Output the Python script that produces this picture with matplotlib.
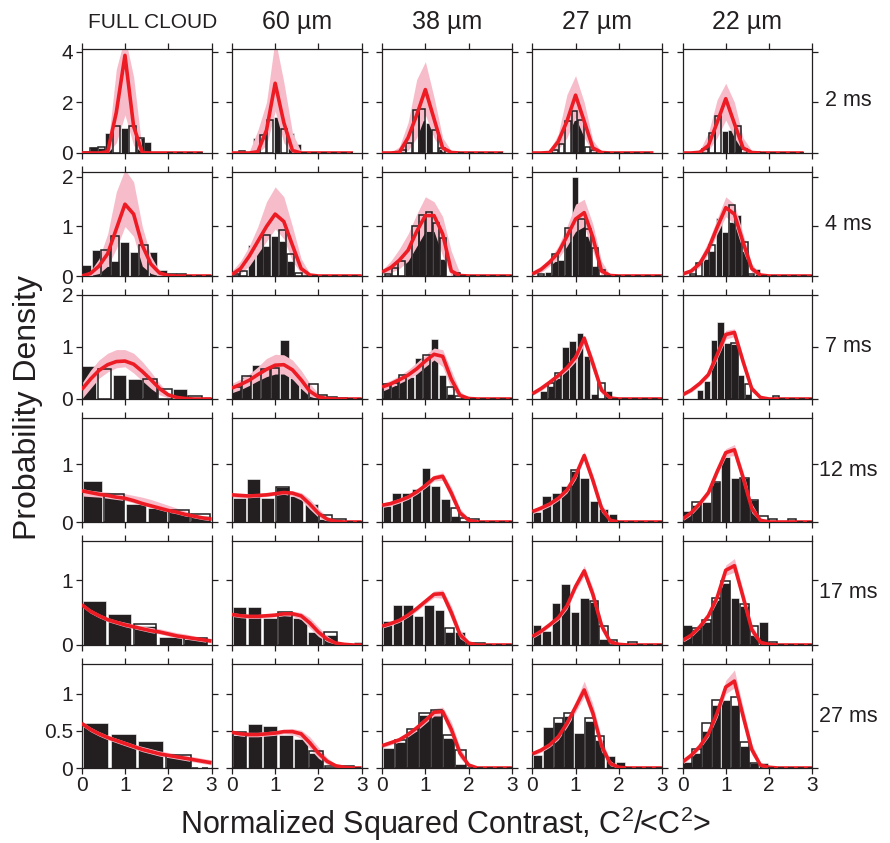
import numpy as np
import matplotlib.pyplot as plt

plt.rcParams['font.family'] = ['Liberation Sans', 'DejaVu Sans']

# labels
col_names = ["FULL CLOUD", "60 µm", "38 µm", "27 µm", "22 µm"]
row_names = ["2 ms", "4 ms", "7 ms", "12 ms", "17 ms", "27 ms"]
ymax = [4.1, 2.1, 2.0, 1.8, 1.6, 1.4]
yticks = [[0, 2, 4], [0, 1, 2], [0, 1, 2], [0, 1], [0, 1], [0, 0.5, 1]]
ytick_labels = [["0", "2", "4"], ["0", "1", "2"], ["0", "1", "2"], ["0", "1"], ["0", "1"], ["0", "0.5", "1"]]

# x grid of the model curves
xg = [0, 0.2, 0.4, 0.6, 0.8, 1.0, 1.2, 1.4, 1.6, 1.8, 2.0, 2.2, 2.4, 2.6, 2.8, 3.0]
nan = np.nan

# ---- 2 ms ----
line_2ms = [[0, 0, 0, 0.05, 1.6, 3.85, 1.05, 0.02, 0, 0, 0, 0, 0, 0, 0, nan],
            [0, 0, 0, 0.05, 0.9, 2.75, 1.2, 0.1, 0, 0, 0, 0, 0, 0, 0, nan],
            [0, 0, 0.03, 0.6, 1.5, 2.5, 1.35, 0.2, 0.02, 0, 0, 0, 0, 0, 0, nan],
            [0, 0, 0.02, 0.45, 1.25, 2.28, 1.25, 0.2, 0.02, 0, 0, 0, 0, 0, 0, nan],
            [0, 0, 0.03, 0.3, 1.2, 2.14, 1.16, 0.2, 0.02, 0, 0, 0, 0, 0, 0, nan]]
hi_2ms = [[0, 0, 0.02, 0.15, 3.3, 4.6, 3.0, 0.08, 0, 0, 0, 0, 0, 0, 0, nan],
          [0, 0, 0.05, 0.9, 2.0, 4.5, 2.8, 0.8, 0.05, 0, 0, 0, 0, 0, 0, nan],
          [0, 0.02, 0.25, 1.2, 2.9, 3.6, 2.2, 0.6, 0.08, 0.01, 0, 0, 0, 0, 0, nan],
          [0, 0, 0.1, 0.75, 2.3, 3.05, 2.0, 0.5, 0.05, 0, 0, 0, 0, 0, 0, nan],
          [0, 0, 0.1, 0.8, 2.1, 2.75, 2.0, 0.6, 0.1, 0.01, 0, 0, 0, 0, 0, nan]]
lo_2ms = [[0, 0, 0, 0, 0.4, 1.5, 0.3, 0, 0, 0, 0, 0, 0, 0, 0, nan],
          [0, 0, 0, 0, 0.3, 1.65, 0.4, 0, 0, 0, 0, 0, 0, 0, 0, nan],
          [0, 0, 0, 0.1, 0.6, 1.5, 0.6, 0.03, 0, 0, 0, 0, 0, 0, 0, nan],
          [0, 0, 0, 0.15, 0.6, 1.4, 0.6, 0.03, 0, 0, 0, 0, 0, 0, 0, nan],
          [0, 0, 0, 0.1, 0.6, 1.3, 0.6, 0.05, 0, 0, 0, 0, 0, 0, 0, nan]]
x0_2ms = [0, 0, 0.4, 0.45, 0.45]
w_2ms = [0.18, 0.16, 0.15, 0.15, 0.15]
blk_2ms = [[0.05, 0.22, 0.2, 0.8, 0, 1.0, 0, 0.6, 0.45, 0.05, 0.03],
           [0, 0, 0.05, 0.6, 0, 0, 1.4, 0, 0.8, 0.35],
           [0, 0, 0, 1.3, 1.2, 0, 0.15, 0.05, 0.03],
           [0, 0, 0, 1.3, 1.45, 0, 0, 0.05],
           [0, 0, 0, 0.85, 0.9, 0.7, 0, 0, 0.04]]
out_2ms = [[0.05, 0.2, 0.22, 0, 1.07, 0, 1.07, 0.6, 0, 0, 0],
           [0, 0.08, 0, 0, 0.7, 1.3, 0, 0.95, 0, 0],
           [0.1, 0.4, 1.7, 1.75, 0, 0.9, 0.2, 0, 0],
           [0.1, 0.35, 1.25, 1.65, 1.3, 0.25, 0.1, 0],
           [0.15, 0.8, 1.45, 0, 0, 1.05, 0.15, 0, 0.04]]

# ---- 4 ms ----
line_4ms = [[0, 0.05, 0.2, 0.45, 0.95, 1.45, 1.25, 0.62, 0.24, 0.06, 0.01, 0, 0, 0, 0, 0],
            [0.03, 0.15, 0.4, 0.7, 1.0, 1.25, 1.1, 0.62, 0.15, 0.02, 0, 0, 0, 0, 0, 0],
            [0.08, 0.17, 0.32, 0.52, 0.9, 1.22, 1.22, 0.85, 0.1, 0.01, 0, 0, 0, 0, 0, 0],
            [0.04, 0.13, 0.28, 0.47, 0.8, 1.15, 1.28, 0.78, 0.1, 0.01, 0, 0, 0, 0, 0, 0],
            [0.04, 0.1, 0.25, 0.55, 0.98, 1.38, 1.25, 0.68, 0.15, 0.02, 0, 0, 0, 0, 0, 0]]
hi_4ms = [[0.02, 0.1, 0.35, 0.85, 1.7, 2.15, 1.9, 1.0, 0.4, 0.1, 0.02, 0, 0, 0, 0, 0],
          [0.1, 0.3, 0.6, 1.0, 1.5, 1.8, 1.6, 1.0, 0.35, 0.05, 0, 0, 0, 0, 0, 0],
          [0.12, 0.3, 0.55, 0.85, 1.25, 1.6, 1.5, 1.2, 0.5, 0.05, 0, 0, 0, 0, 0, 0],
          [0.1, 0.2, 0.35, 0.6, 1.0, 1.45, 1.55, 1.05, 0.3, 0.02, 0, 0, 0, 0, 0, 0],
          [0.07, 0.15, 0.35, 0.7, 1.15, 1.6, 1.45, 0.85, 0.25, 0.03, 0, 0, 0, 0, 0, 0]]
lo_4ms = [[0, 0.01, 0.05, 0.2, 0.55, 1.0, 0.8, 0.2, 0.05, 0, 0, 0, 0, 0, 0, 0],
          [0, 0.05, 0.2, 0.45, 0.7, 0.95, 0.75, 0.3, 0.05, 0, 0, 0, 0, 0, 0, 0],
          [0.03, 0.07, 0.15, 0.3, 0.6, 0.9, 0.9, 0.4, 0, 0, 0, 0, 0, 0, 0, 0],
          [0.01, 0.07, 0.2, 0.35, 0.6, 0.9, 1.0, 0.5, 0, 0, 0, 0, 0, 0, 0, 0],
          [0.02, 0.06, 0.18, 0.45, 0.85, 1.2, 1.05, 0.5, 0.07, 0, 0, 0, 0, 0, 0, 0]]
x0_4ms = [0, 0, 0.05, 0.13, 0.16]
w_4ms = [0.22, 0.18, 0.16, 0.155, 0.15]
blk_4ms = [[0.22, 0.52, 0.2, 0.3, 0.69, 0.48, 0.4, 0.48, 0.13, 0.05, 0.05],
           [0, 0, 0.62, 0.64, 0.6, 0.8, 0.7, 0.3, 0],
           [0, 0, 0, 0.52, 0.8, 0.95, 1.0, 0.95, 0.35, 0, 0],
           [0, 0.08, 0.3, 0.33, 0.7, 2.0, 1.15, 0.8, 0.2, 0],
           [0, 0, 0.35, 0.5, 1.17, 0.89, 1.1, 1.23, 0.5, 0, 0.14]]
out_4ms = [[0, 0, 0.52, 0.8, 0, 0, 0.62, 0, 0, 0.05, 0.05],
           [0.05, 0.1, 0, 0, 0.83, 0, 0.93, 0.44, 0.07],
           [0.05, 0.17, 0.3, 0, 1.0, 1.24, 1.3, 1.07, 0.77, 0, 0.07],
           [0.05, 0, 0.45, 0, 0.97, 0, 1.15, 0.95, 0.57, 0.13],
           [0.05, 0.27, 0, 0.62, 0, 0, 1.43, 0, 0.68, 0.05, 0]]

# ---- 7 ms ----
line_7ms = [[0.18, 0.38, 0.55, 0.66, 0.72, 0.73, 0.67, 0.53, 0.37, 0.2, 0.08, 0.03, 0.01, 0, 0, 0],
            [0.21, 0.28, 0.36, 0.47, 0.57, 0.65, 0.66, 0.56, 0.37, 0.15, 0.04, 0.01, 0, 0, 0, 0],
            [0.23, 0.29, 0.37, 0.46, 0.58, 0.73, 0.86, 0.82, 0.38, 0.07, 0.01, 0, 0, 0, 0, 0],
            [0.1, 0.2, 0.32, 0.45, 0.6, 0.8, 1.17, 0.68, 0.17, 0.02, 0, 0, 0, 0, 0, 0],
            [0.08, 0.17, 0.3, 0.47, 0.85, 1.24, 1.28, 0.72, 0.2, 0.03, 0, 0, 0, 0, 0, 0]]
hi_7ms = [[0.3, 0.55, 0.75, 0.88, 0.95, 0.95, 0.88, 0.72, 0.52, 0.3, 0.12, 0.05, 0.02, 0, 0, 0],
          [0.3, 0.38, 0.48, 0.62, 0.78, 0.86, 0.85, 0.75, 0.55, 0.3, 0.1, 0.02, 0, 0, 0, 0],
          [0.3, 0.36, 0.45, 0.56, 0.7, 0.85, 0.98, 0.95, 0.55, 0.15, 0.02, 0, 0, 0, 0, 0],
          [0.13, 0.23, 0.35, 0.5, 0.65, 0.87, 1.22, 0.8, 0.25, 0.04, 0, 0, 0, 0, 0, 0],
          [0.12, 0.2, 0.33, 0.52, 0.93, 1.32, 1.35, 0.82, 0.27, 0.05, 0, 0, 0, 0, 0, 0]]
lo_7ms = [[0, 0.2, 0.4, 0.52, 0.6, 0.62, 0.5, 0.35, 0.2, 0.08, 0.02, 0, 0, 0, 0, 0],
          [0.12, 0.18, 0.26, 0.35, 0.43, 0.48, 0.48, 0.38, 0.2, 0.05, 0, 0, 0, 0, 0, 0],
          [0.15, 0.22, 0.3, 0.38, 0.48, 0.62, 0.75, 0.62, 0.2, 0.02, 0, 0, 0, 0, 0, 0],
          [0.07, 0.16, 0.27, 0.4, 0.54, 0.72, 1.05, 0.55, 0.1, 0, 0, 0, 0, 0, 0, 0],
          [0.05, 0.13, 0.26, 0.42, 0.77, 1.15, 1.2, 0.62, 0.14, 0.02, 0, 0, 0, 0, 0, 0]]
x0_7ms = [0, 0, 0, 0.18, 0.32]
w_7ms = [0.35, 0.222, 0.185, 0.167, 0.16]
blk_7ms = [[0.63, 0, 0.47, 0.39, 0.36, 0, 0.19, 0, 0.04],
           [0.2, 0.42, 0.65, 0.55, 0.58, 1.13, 0.41, 0.21, 0.1, 0, 0, 0],
           [0.25, 0.27, 0.4, 0.42, 0.79, 0.8, 1.16, 0.46, 0.1, 0, 0],
           [0.15, 0.25, 0.4, 1.0, 1.11, 1.27, 0.82, 0.1, 0, 0.15],
           [0.18, 0.34, 1.14, 1.49, 1.08, 1.05, 0.46, 0.1, 0, 0, 0, 0]]
out_7ms = [[0, 0.58, 0, 0, 0.39, 0.19, 0, 0.05, 0],
           [0.23, 0.44, 0, 0.58, 0.6, 0, 0, 0, 0.29, 0.08, 0.03, 0.02],
           [0.28, 0.3, 0.46, 0, 0, 0.84, 0, 0, 0.23, 0.05, 0.02],
           [0, 0.31, 0.5, 0, 0, 0, 0, 0, 0.31, 0],
           [0, 0, 0, 0, 0, 1.08, 0, 0.28, 0, 0, 0, 0.06]]

# ---- 12 ms ----
line_12ms = [[0.54, 0.51, 0.48, 0.46, 0.43, 0.41, 0.37, 0.32, 0.28, 0.24, 0.2, 0.17, 0.13, 0.1, 0.07, 0.05],
             [0.47, 0.46, 0.45, 0.46, 0.47, 0.49, 0.51, 0.5, 0.45, 0.31, 0.15, 0.05, 0.01, 0, 0, 0],
             [0.29, 0.32, 0.37, 0.43, 0.52, 0.63, 0.76, 0.79, 0.5, 0.16, 0.03, 0, 0, 0, 0, 0],
             [0.18, 0.24, 0.31, 0.41, 0.55, 0.8, 1.15, 0.72, 0.24, 0.03, 0, 0, 0, 0, 0, 0],
             [0.05, 0.16, 0.32, 0.51, 0.87, 1.2, 1.25, 0.77, 0.24, 0.03, 0, 0, 0, 0, 0, 0]]
hi_12ms = [[0.58, 0.55, 0.53, 0.52, 0.5, 0.49, 0.46, 0.43, 0.39, 0.34, 0.29, 0.24, 0.19, 0.14, 0.1, 0.07],
           [0.5, 0.49, 0.49, 0.49, 0.5, 0.52, 0.54, 0.54, 0.51, 0.4, 0.23, 0.09, 0.02, 0, 0, 0],
           [0.33, 0.36, 0.41, 0.47, 0.56, 0.67, 0.81, 0.85, 0.6, 0.24, 0.06, 0.01, 0, 0, 0, 0],
           [0.22, 0.28, 0.35, 0.45, 0.6, 0.86, 1.22, 0.82, 0.32, 0.06, 0.01, 0, 0, 0, 0, 0],
           [0.09, 0.2, 0.36, 0.56, 0.93, 1.27, 1.34, 0.88, 0.32, 0.06, 0.01, 0, 0, 0, 0, 0]]
lo_12ms = [[0.45, 0.44, 0.43, 0.41, 0.39, 0.37, 0.33, 0.29, 0.25, 0.21, 0.17, 0.14, 0.1, 0.07, 0.04, 0.02],
           [0.43, 0.42, 0.42, 0.43, 0.44, 0.46, 0.48, 0.45, 0.38, 0.22, 0.08, 0.01, 0, 0, 0, 0],
           [0.25, 0.28, 0.33, 0.39, 0.48, 0.59, 0.71, 0.72, 0.4, 0.1, 0.01, 0, 0, 0, 0, 0],
           [0.14, 0.2, 0.27, 0.37, 0.5, 0.74, 1.08, 0.62, 0.17, 0.01, 0, 0, 0, 0, 0, 0],
           [0.02, 0.12, 0.28, 0.46, 0.81, 1.13, 1.15, 0.66, 0.16, 0.01, 0, 0, 0, 0, 0, 0]]
x0_12ms = [0, 0, 0, 0, 0]
w_12ms = [0.5, 0.333, 0.225, 0.22, 0.22]
blk_12ms = [[0.71, 0.45, 0.31, 0.24, 0.18, 0.1],
            [0.41, 0.74, 0.41, 0.6, 0.45, 0.31, 0.05, 0.02],
            [0.28, 0.51, 0.51, 0.57, 0.93, 0.63, 0.39, 0.1, 0, 0],
            [0.18, 0.45, 0.51, 0.63, 0.88, 0.76, 0.36, 0.22, 0.13],
            [0.19, 0.3, 0.34, 0.7, 1.13, 0.76, 0.76, 0.38, 0.05, 0, 0, 0.03]]
out_12ms = [[0, 0.48, 0, 0, 0.2, 0.13],
            [0, 0, 0, 0.6, 0, 0, 0.12, 0.06],
            [0, 0, 0, 0, 0, 0, 0, 0.24, 0.07, 0.05],
            [0, 0, 0, 0, 0.9, 0, 0, 0, 0],
            [0, 0.34, 0, 0.7, 0, 0, 0.76, 0.38, 0.1, 0.05, 0, 0.05]]

# ---- 17 ms ----
line_17ms = [[0.62, 0.52, 0.45, 0.39, 0.35, 0.31, 0.28, 0.25, 0.22, 0.2, 0.17, 0.14, 0.12, 0.1, 0.08, 0.06],
             [0.47, 0.45, 0.44, 0.44, 0.45, 0.46, 0.48, 0.48, 0.45, 0.34, 0.2, 0.09, 0.03, 0.01, 0, 0],
             [0.29, 0.33, 0.38, 0.46, 0.56, 0.67, 0.78, 0.79, 0.5, 0.16, 0.03, 0, 0, 0, 0, 0],
             [0.13, 0.21, 0.31, 0.42, 0.6, 0.9, 1.14, 0.78, 0.3, 0.05, 0.01, 0, 0, 0, 0, 0],
             [0.07, 0.15, 0.28, 0.45, 0.73, 1.15, 1.22, 0.74, 0.24, 0.04, 0.01, 0, 0, 0, 0, 0]]
hi_17ms = [[0.65, 0.55, 0.48, 0.42, 0.38, 0.35, 0.32, 0.29, 0.27, 0.25, 0.22, 0.19, 0.17, 0.14, 0.12, 0.1],
           [0.5, 0.48, 0.47, 0.47, 0.48, 0.49, 0.51, 0.52, 0.5, 0.42, 0.28, 0.14, 0.05, 0.02, 0, 0],
           [0.32, 0.36, 0.41, 0.49, 0.6, 0.71, 0.83, 0.85, 0.6, 0.23, 0.06, 0.01, 0, 0, 0, 0],
           [0.16, 0.24, 0.34, 0.46, 0.65, 0.96, 1.22, 0.88, 0.38, 0.08, 0.02, 0, 0, 0, 0, 0],
           [0.1, 0.18, 0.31, 0.49, 0.79, 1.23, 1.33, 0.85, 0.32, 0.07, 0.02, 0, 0, 0, 0, 0]]
lo_17ms = [[0.59, 0.49, 0.42, 0.36, 0.32, 0.28, 0.25, 0.22, 0.19, 0.17, 0.14, 0.11, 0.09, 0.07, 0.05, 0.03],
           [0.44, 0.42, 0.41, 0.41, 0.42, 0.43, 0.45, 0.44, 0.39, 0.26, 0.13, 0.05, 0.01, 0, 0, 0],
           [0.26, 0.3, 0.35, 0.43, 0.52, 0.63, 0.73, 0.72, 0.4, 0.1, 0.01, 0, 0, 0, 0, 0],
           [0.1, 0.18, 0.28, 0.38, 0.55, 0.84, 1.06, 0.68, 0.22, 0.02, 0, 0, 0, 0, 0, 0],
           [0.04, 0.12, 0.25, 0.41, 0.67, 1.07, 1.12, 0.63, 0.17, 0.02, 0, 0, 0, 0, 0, 0]]
x0_17ms = [0, 0, 0, 0, 0]
w_17ms = [0.585, 0.35, 0.24, 0.22, 0.22]
blk_17ms = [[0.67, 0.48, 0.3, 0.13, 0.1],
            [0.59, 0.59, 0.41, 0.47, 0.41, 0.2, 0.15, 0, 0.04],
            [0.37, 0.61, 0.61, 0.44, 0.61, 0.54, 0.2, 0.2, 0, 0],
            [0.31, 0.22, 0.65, 0.94, 0.51, 0.73, 0.66, 0.1, 0, 0, 0.02],
            [0.31, 0.24, 0.35, 0.7, 0.95, 0.73, 0.6, 0.15, 0.35, 0]]
out_17ms = [[0, 0, 0.33, 0, 0.11],
            [0, 0, 0, 0.51, 0, 0, 0.2, 0, 0],
            [0, 0, 0, 0, 0, 0, 0.26, 0, 0.03, 0.03],
            [0, 0, 0, 0, 0, 0, 0.68, 0.3, 0.08, 0, 0.04],
            [0, 0.26, 0.39, 0.73, 0.98, 0, 0.63, 0.3, 0, 0.04]]

# ---- 27 ms ----
line_27ms = [[0.6, 0.52, 0.46, 0.41, 0.37, 0.33, 0.29, 0.25, 0.22, 0.19, 0.17, 0.15, 0.13, 0.11, 0.09, 0.07],
             [0.48, 0.46, 0.45, 0.45, 0.46, 0.47, 0.49, 0.49, 0.46, 0.34, 0.2, 0.09, 0.03, 0.01, 0, 0],
             [0.3, 0.34, 0.38, 0.45, 0.54, 0.64, 0.75, 0.76, 0.52, 0.2, 0.04, 0, 0, 0, 0, 0],
             [0.19, 0.24, 0.31, 0.42, 0.6, 0.82, 1.05, 0.74, 0.3, 0.06, 0.01, 0, 0, 0, 0, 0],
             [0.08, 0.17, 0.29, 0.46, 0.74, 1.09, 1.17, 0.7, 0.25, 0.04, 0.01, 0, 0, 0, 0, 0]]
hi_27ms = [[0.63, 0.55, 0.49, 0.44, 0.4, 0.36, 0.32, 0.29, 0.26, 0.23, 0.21, 0.19, 0.17, 0.15, 0.13, 0.11],
           [0.51, 0.49, 0.48, 0.48, 0.49, 0.5, 0.52, 0.53, 0.51, 0.42, 0.28, 0.14, 0.05, 0.02, 0, 0],
           [0.33, 0.37, 0.41, 0.48, 0.58, 0.68, 0.8, 0.82, 0.62, 0.28, 0.07, 0.01, 0, 0, 0, 0],
           [0.22, 0.27, 0.34, 0.46, 0.66, 0.9, 1.17, 0.86, 0.4, 0.1, 0.02, 0, 0, 0, 0, 0],
           [0.11, 0.2, 0.32, 0.5, 0.8, 1.18, 1.32, 0.82, 0.33, 0.07, 0.02, 0, 0, 0, 0, 0]]
lo_27ms = [[0.57, 0.49, 0.43, 0.38, 0.34, 0.3, 0.26, 0.22, 0.19, 0.16, 0.14, 0.12, 0.1, 0.08, 0.06, 0.04],
           [0.45, 0.43, 0.42, 0.42, 0.43, 0.44, 0.46, 0.45, 0.4, 0.26, 0.13, 0.05, 0.01, 0, 0, 0],
           [0.27, 0.31, 0.35, 0.42, 0.5, 0.6, 0.7, 0.7, 0.42, 0.13, 0.02, 0, 0, 0, 0, 0],
           [0.16, 0.21, 0.28, 0.38, 0.55, 0.75, 0.96, 0.64, 0.22, 0.03, 0, 0, 0, 0, 0, 0],
           [0.05, 0.14, 0.26, 0.42, 0.68, 1.0, 1.08, 0.6, 0.18, 0.02, 0, 0, 0, 0, 0, 0]]
x0_27ms = [0, 0, 0, 0, 0]
w_27ms = [0.64, 0.355, 0.28, 0.24, 0.22]
blk_27ms = [[0.6, 0.46, 0.36, 0.15],
            [0.45, 0.59, 0.57, 0.44, 0.39, 0.2, 0.01, 0.01],
            [0.27, 0.35, 0.5, 0.72, 0.75, 0.4, 0.05],
            [0.17, 0.55, 0.62, 0.7, 0.47, 0.63, 0.38, 0.16, 0.08],
            [0.08, 0.2, 0.5, 0.85, 0.91, 0.85, 0.3, 0.07, 0.07]]
out_27ms = [[0, 0, 0, 0.17],
            [0.49, 0, 0, 0, 0, 0.23, 0.03, 0.03],
            [0, 0.38, 0.53, 0.74, 0.78, 0.45, 0.24],
            [0, 0, 0.67, 0.74, 0, 0.67, 0.43, 0, 0],
            [0, 0.26, 0.6, 0.91, 0, 0.95, 0.35, 0.07, 0]]

lines = [line_2ms, line_4ms, line_7ms, line_12ms, line_17ms, line_27ms]
his = [hi_2ms, hi_4ms, hi_7ms, hi_12ms, hi_17ms, hi_27ms]
los = [lo_2ms, lo_4ms, lo_7ms, lo_12ms, lo_17ms, lo_27ms]
x0s = [x0_2ms, x0_4ms, x0_7ms, x0_12ms, x0_17ms, x0_27ms]
ws = [w_2ms, w_4ms, w_7ms, w_12ms, w_17ms, w_27ms]
blks = [blk_2ms, blk_4ms, blk_7ms, blk_12ms, blk_17ms, blk_27ms]
outs = [out_2ms, out_4ms, out_7ms, out_12ms, out_17ms, out_27ms]

RED = '#ED1C24'
PINK = '#F7BCCA'
DARK = '#231F20'

W, H = 890, 843
fig = plt.figure(figsize=(W / 100, H / 100), dpi=100)

for r in range(6):
    for c in range(5):
        left = (81.7 + 150.2 * c) / W
        bottom = 1 - (153 + 123 * r) / H
        ax = fig.add_axes([left, bottom, 129.8 / W, 104 / H])

        x0 = x0s[r][c]
        w = ws[r][c]
        blk = np.array(blks[r][c], dtype=float)
        out = np.array(outs[r][c], dtype=float)
        centers = x0 + w * (np.arange(len(blk)) + 0.5)

        # filled histogram
        m = blk > 0
        ax.bar(centers[m], blk[m], width=w * 0.9, color=DARK,
               edgecolor='white', linewidth=0.4, zorder=1)
        # model band
        ax.fill_between(xg, los[r][c], his[r][c], color=PINK, lw=0, zorder=2)
        # open histogram
        m2 = out > 0
        ax.bar(centers[m2], out[m2], width=w * 0.9, facecolor='none',
               edgecolor=DARK, linewidth=1.1, zorder=3)
        # model curve
        ax.plot(xg, lines[r][c], color=RED, lw=2.6, zorder=4,
                solid_joinstyle='round', solid_capstyle='butt')
        # empty bins along the baseline
        tail0 = x0 + w * len(blk)
        tail1 = 2.8 if r == 0 else 3.0
        if tail0 < tail1 - 0.1:
            ax.plot([tail0, tail1], [0, 0], color=DARK, lw=1.1,
                    ls=(0, (4, 2.5)), zorder=5)

        ax.set_xlim(0, 3)
        ax.set_ylim(0, ymax[r])
        ax.set_xticks([0, 1, 2, 3])
        ax.set_yticks(yticks[r])
        ax.tick_params(direction='out', length=4, width=0.9, top=True, right=True,
                       labelsize=15, pad=2, colors=DARK)
        for s in ax.spines.values():
            s.set_linewidth(0.9)
            s.set_color(DARK)
        if c == 0:
            ax.set_yticklabels(ytick_labels[r])
        else:
            ax.set_yticklabels([])
        if r == 5:
            ax.set_xticklabels(["0", "1", "2", "3"])
        else:
            ax.set_xticklabels([])

# column and row titles
for c in range(5):
    xc = (81.7 + 150.2 * c + 65) / W
    if c == 0:
        fig.text(xc + 6 / W, 1 - 23 / H, col_names[c], ha='center', va='center',
                 fontsize=15, color=DARK)
    else:
        fig.text(xc, 1 - 22 / H, col_names[c], ha='center', va='center',
                 fontsize=18, color=DARK)
for r in range(6):
    fig.text(848 / W, 1 - (101 + 123 * r) / H, row_names[r], ha='center',
             va='center', fontsize=15.5, color=DARK)

fig.text(28 / W, 1 - 408 / H, "Probability Density", rotation=90,
         ha='center', va='center', fontsize=23, color=DARK)
fig.text(446 / W, 1 - 824 / H,
         r"Normalized Squared Contrast, C$\mathregular{^2}$/<C$\mathregular{^2}$>",
         ha='center', va='center', fontsize=22, color=DARK)

fig.savefig("out.png", dpi=100)
